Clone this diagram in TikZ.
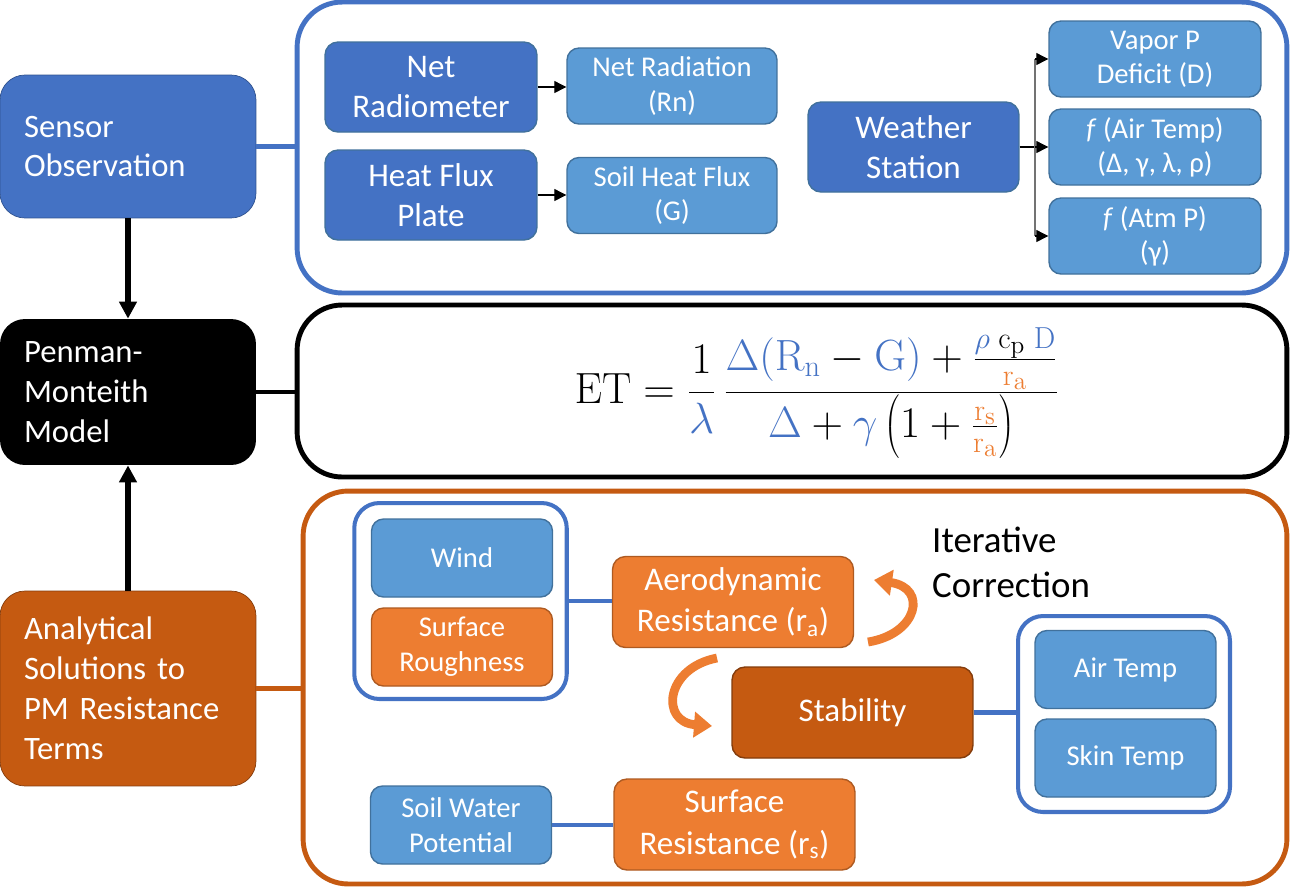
\documentclass[tikz,border=0pt]{standalone}
\usepackage[no-math]{fontspec}
\setmainfont{Carlito}
\usetikzlibrary{arrows.meta,positioning}
\definecolor{obsblue}{HTML}{4472C4}
\definecolor{obsblueline}{HTML}{2F528F}
\definecolor{varblue}{HTML}{5B9BD5}
\definecolor{varblueline}{HTML}{41719C}
\definecolor{resorange}{HTML}{ED7D31}
\definecolor{resorangeline}{HTML}{AE5A21}
\definecolor{solorange}{HTML}{C55A11}
\definecolor{solorangeline}{HTML}{843C0C}

\begin{document}
\begin{tikzpicture}[
    x=0.02cm, y=-0.02cm,
    stage/.style={rounded corners=0.5cm, align=left, text width=4.16cm, inner xsep=0.48cm, minimum width=5.12cm, text=white, font=\fontsize{18.6}{22.7}\selectfont},
    sensorbox/.style={draw=varblueline, thick, fill=obsblue, rounded corners=0.26cm, align=center, inner sep=1pt, minimum width=4.24cm, minimum height=1.8cm, text=white, font=\fontsize{18.8}{22.7}\selectfont},
    varbox/.style={draw=varblueline, thick, fill=varblue, rounded corners=0.24cm, align=center, inner sep=1pt, minimum width=4.2cm, minimum height=1.52cm, text=white, font=\fontsize{16.3}{19.4}\selectfont},
    smallbox/.style={varbox, minimum width=3.62cm, minimum height=1.56cm, font=\fontsize{16.3}{20}\selectfont},
    resbox/.style={draw=resorangeline, thick, fill=resorange, rounded corners=0.26cm, align=center, inner sep=1pt, minimum width=4.82cm, minimum height=1.82cm, text=white, font=\fontsize{18.8}{23.4}\selectfont},
    frame/.style={draw=#1, line width=2.8pt, fill=white, rounded corners=0.9cm},
    group/.style={draw=obsblue, line width=2.3pt, fill=white, rounded corners=0.5cm, minimum width=4.25cm, minimum height=3.92cm},
    link/.style={draw=#1, line width=2.3pt},
    arrow/.style={-{Triangle[length=3.4mm, width=3.4mm]}, line width=3.4pt},
    thinarrow/.style={-{Triangle[length=2.4mm, width=2.4mm]}, line width=0.6pt},
    cyclearrow/.style={-{Triangle[length=3.6mm, width=5mm]}, line width=5pt, resorange}
  ]
    \useasboundingbox (0,0) rectangle (1291,887);

    % left column
    \node[stage, fill=obsblue, draw=obsblueline, minimum height=2.86cm] (sensor) at (128,146.5) {Sensor\\Observation};
    \node[stage, fill=black, minimum height=2.92cm] (pm) at (128,392) {Penman-\\Monteith\\Model};
    \node[stage, fill=solorange, draw=solorangeline, minimum height=3.9cm] (ana) at (128,688.5) {Analytical\\Solutions to\\PM Resistance\\Terms};

    % frames
    \node[frame=obsblue, minimum width=19.8cm, minimum height=5.82cm] (obsframe) at (792,147.5) {};
    \node[frame=black, minimum width=19.8cm, minimum height=3.44cm] (eqframe) at (792,391) {};
    \node[frame=solorange, minimum width=19.68cm, minimum height=7.86cm] (resframe) at (795,687.5) {};

    \draw[link=obsblue] (sensor.east) -- (sensor.east -| obsframe.west);
    \draw[link=black] (pm.east) -- (pm.east -| eqframe.west);
    \draw[link=solorange] (ana.east) -- (ana.east -| resframe.west);
    \draw[arrow] (sensor) -- (pm);
    \draw[arrow] (ana) -- (pm);

    % sensor observation
    \node[sensorbox] (nr) at (431,87) {Net\\Radiometer};
    \node[sensorbox] (hfp) at (431,195) {Heat Flux\\Plate};
    \node[varbox] (rn) at (672,86) {Net Radiation\\(Rn)};
    \node[varbox] (g) at (672,195.5) {Soil Heat Flux\\(G)};
    \node[sensorbox, minimum width=4.22cm] (ws) at (913.5,147) {Weather\\Station};
    \node[varbox, minimum width=4.24cm] (vpd) at (1155,59) {Vapor P\\Deficit (D)};
    \node[varbox, minimum width=4.24cm] (ftair) at (1155,147) {\textit{f} (Air Temp)\\(Δ, γ, λ, ρ)};
    \node[varbox, minimum width=4.24cm] (fatm) at (1155,236) {\textit{f} (Atm P)\\(γ)};
    \coordinate (fork) at (1035,147);

    \draw[thinarrow] (nr.east) -- (nr.east -| rn.west);
    \draw[thinarrow] (hfp.east) -- (hfp.east -| g.west);
    \draw[line width=0.6pt] (ws.east) -- (fork);
    \draw[line width=0.8pt, black!55] (fork |- vpd.west) -- (fork |- fatm.west);
    \draw[thinarrow] (fork |- vpd.west) -- (vpd.west);
    \draw[thinarrow] (fork) -- (ftair.west);
    \draw[thinarrow] (fork |- fatm.west) -- (fatm.west);

    % model
    \node[font=\fontsize{27}{33}\selectfont] (eq) at (817,393) {$\displaystyle
      \mathrm{ET} = \frac{1}{\color{obsblue}\lambda}\,
      \frac{{\color{obsblue}\Delta(\mathrm{R_n}} - {\color{obsblue}\mathrm{G})} + \frac{{\color{obsblue}\rho}\;\mathrm{c_p}\;{\color{obsblue}\mathrm{D}}}{\color{resorange}\mathrm{r_a}}}
           {{\color{obsblue}\Delta} + {\color{obsblue}\gamma}\left(1 + \frac{\color{resorange}\mathrm{r_s}}{\color{resorange}\mathrm{r_a}}\right)}$};

    % resistance terms
    \node[group] (aerogroup) at (460.5,601) {};
    \node[smallbox] (wind) at (462,558) {Wind};
    \node[smallbox, fill=resorange, draw=resorangeline] (z0) at (462,647) {Surface\\Roughness};
    \node[resbox] (ra) at (733,602) {Aerodynamic\\Resistance (r\textsubscript{a})};
    \node[resbox, fill=solorange, draw=solorangeline] (stab) at (852.5,712.5) {Stability};
    \node[group, minimum width=4.24cm] (tempgroup) at (1124,714) {};
    \node[smallbox] (tair) at (1125.5,669.5) {Air Temp};
    \node[smallbox] (tskin) at (1125.5,758) {Skin Temp};
    \node[smallbox] (swp) at (461,825) {Soil Water\\Potential};
    \node[resbox] (rs) at (734.5,824.5) {Surface\\Resistance (r\textsubscript{s})};
    \node[align=left, anchor=west, font=\fontsize{21}{25.5}\selectfont] (iter) at (926,562) {Iterative\\Correction};

    \draw[link=obsblue] (aerogroup.east) -- (aerogroup.east -| ra.west);
    \draw[link=obsblue] (stab.east) -- (stab.east -| tempgroup.west);
    \draw[link=obsblue] (swp.east) -- (swp.east -| rs.west);
    \draw[cyclearrow] (868,642) .. controls (918,634) and (928,588) .. (874,580);
    \draw[cyclearrow] (717,658) .. controls (665,668) and (660,722) .. (712,726);
\end{tikzpicture}
\end{document}
